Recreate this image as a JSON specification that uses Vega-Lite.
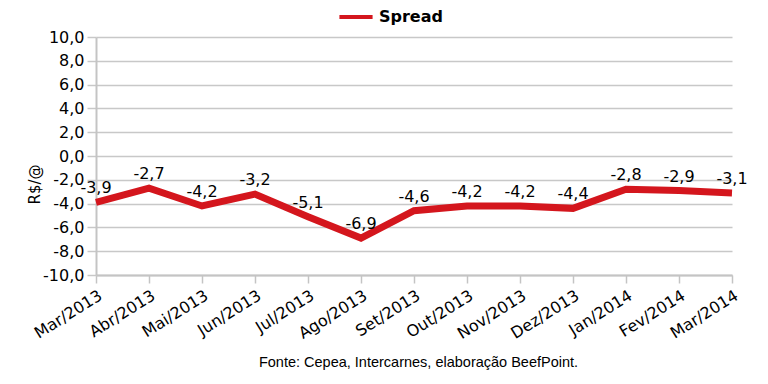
{
  "$schema": "https://vega.github.io/schema/vega-lite/v6.json",
  "autosize": {"type": "none"},
  "width": 636,
  "height": 238,
  "padding": {"left": 96, "top": 37, "right": 36, "bottom": 109},
  "background": "white",
  "config": {
    "view": {"stroke": null},
    "locale": {"number": {"decimal": ",", "thousands": ".", "grouping": [3], "currency": ["R$", ""], "minus": "-"}}
  },
  "data": {"values": [
    {"mes": "Mar/2013", "spread": -3.9, "serie": "Spread"},
    {"mes": "Abr/2013", "spread": -2.7, "serie": "Spread"},
    {"mes": "Mai/2013", "spread": -4.2, "serie": "Spread"},
    {"mes": "Jun/2013", "spread": -3.2, "serie": "Spread"},
    {"mes": "Jul/2013", "spread": -5.1, "serie": "Spread"},
    {"mes": "Ago/2013", "spread": -6.9, "serie": "Spread"},
    {"mes": "Set/2013", "spread": -4.6, "serie": "Spread"},
    {"mes": "Out/2013", "spread": -4.2, "serie": "Spread"},
    {"mes": "Nov/2013", "spread": -4.2, "serie": "Spread"},
    {"mes": "Dez/2013", "spread": -4.4, "serie": "Spread"},
    {"mes": "Jan/2014", "spread": -2.8, "serie": "Spread"},
    {"mes": "Fev/2014", "spread": -2.9, "serie": "Spread"},
    {"mes": "Mar/2014", "spread": -3.1, "serie": "Spread"}
  ]},
  "encoding": {
    "x": {
      "field": "mes", "type": "ordinal", "sort": null,
      "scale": {"type": "point", "padding": 0},
      "axis": {
        "title": "Fonte: Cepea, Intercarnes, elaboração BeefPoint.",
        "titleFont": "Liberation Sans", "titleFontSize": 14.5, "titleFontWeight": "normal", "titleColor": "#000",
        "titleX": 322, "titleY": 87, "titleBaseline": "middle", "titleAlign": "center", "titleAnchor": null,
        "labelAngle": -32, "labelAlign": "right", "labelBaseline": "top",
        "labelFont": "DejaVu Sans", "labelFontSize": 16, "labelColor": "#000",
        "labelPadding": 4,
        "domainColor": "#c4c4c4", "domainWidth": 2,
        "tickColor": "#c4c4c4", "tickWidth": 1.5, "tickSize": 8,
        "grid": false
      }
    },
    "y": {
      "field": "spread", "type": "quantitative",
      "scale": {"domain": [-10, 10], "nice": false, "zero": false},
      "axis": {
        "title": "R$/@",
        "titleFont": "DejaVu Sans", "titleFontSize": 15, "titleFontWeight": "normal", "titleColor": "#000",
        "titleX": -62, "titleY": 147, "titleAngle": -90, "titleBaseline": "middle", "titleAlign": "center",
        "values": [-10, -8, -6, -4, -2, 0, 2, 4, 6, 8, 10],
        "format": ".1f",
        "labelFont": "DejaVu Sans", "labelFontSize": 16, "labelColor": "#000",
        "labelPadding": 3,
        "domainColor": "#c4c4c4", "domainWidth": 2,
        "tickColor": "#c8c8c8", "tickWidth": 1.5, "tickSize": 9,
        "grid": true, "gridColor": "#c8c8c8", "gridWidth": 1.5
      }
    }
  },
  "layer": [
    {
      "mark": {"type": "line", "strokeWidth": 7, "strokeJoin": "miter"},
      "encoding": {
        "color": {
          "field": "serie", "type": "nominal",
          "scale": {"range": ["#d4161d"]},
          "legend": {
            "title": null, "orient": "none", "legendX": 241, "legendY": -39,
            "symbolType": "stroke", "symbolSize": 1100, "symbolStrokeWidth": 4,
            "labelFont": "DejaVu Sans", "labelFontSize": 16, "labelFontWeight": "bold", "labelColor": "#000",
            "labelOffset": 4
          }
        }
      }
    },
    {
      "mark": {"type": "text", "dy": -14, "font": "DejaVu Sans", "fontSize": 16, "color": "#000", "baseline": "middle"},
      "encoding": {
        "text": {"field": "spread", "type": "quantitative", "format": ".1f"}
      }
    }
  ]
}
